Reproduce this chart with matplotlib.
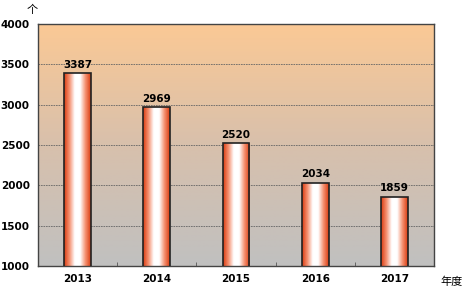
import numpy as np
import matplotlib
matplotlib.use("Agg")
import matplotlib.pyplot as plt
from matplotlib.colors import LinearSegmentedColormap

plt.rcParams['font.family'] = ['Noto Sans CJK SC', 'DejaVu Sans']

years = ["2013", "2014", "2015", "2016", "2017"]
counts = [3387, 2969, 2520, 2034, 1859]
y_ticks = [1000, 1500, 2000, 2500, 3000, 3500, 4000]

fig = plt.figure(figsize=(4.72, 2.90), dpi=100)
ax = fig.add_axes([38 / 472, 24 / 290, 396 / 472, 242 / 290])

x = np.arange(len(years))
ax.set_xlim(-0.5, len(years) - 0.5)
ax.set_ylim(1000, 4000)

# background gradient: peach at top to gray at bottom
bg_cmap = LinearSegmentedColormap.from_list("bg", ["#c0c0c0", "#d8c0ac", "#fbc995"])
grad = np.linspace(0, 1, 256).reshape(-1, 1)
ax.imshow(grad, aspect="auto", cmap=bg_cmap, origin="lower",
          extent=[-0.5, len(years) - 0.5, 1000, 4000], zorder=0)

for yt in y_ticks[1:-1]:
    ax.axhline(yt, color="#666666", lw=0.6, ls=(0, (2, 1)), zorder=1)

# bars with horizontal red-white-red gradient
bar_cmap = LinearSegmentedColormap.from_list(
    "bar", ["#d93a10", "#f59070", "#ffffff", "#ffffff", "#f59070", "#d93a10"])
hgrad = np.linspace(0, 1, 256).reshape(1, -1)
bars = ax.bar(x, counts, width=0.34, bottom=0, facecolor="none",
              edgecolor="#222222", lw=1.2, zorder=3)
for b in bars:
    im = ax.imshow(hgrad, aspect="auto", cmap=bar_cmap,
                   extent=[b.get_x(), b.get_x() + b.get_width(), 1000, b.get_height()],
                   zorder=2)
    im.set_clip_path(b)

for xi, v in zip(x, counts):
    ax.text(xi, v + 40, str(v), ha="center", va="bottom", fontsize=7.5,
            fontweight="bold", family="DejaVu Sans", zorder=4)

ax.set_xlim(-0.5, len(years) - 0.5)
ax.set_ylim(1000, 4000)
ax.set_xticks(x)
ax.set_xticklabels(years, fontsize=7.5, fontweight="bold", family="DejaVu Sans")
ax.set_yticks(y_ticks)
ax.set_yticklabels([str(t) for t in y_ticks], fontsize=7.5, fontweight="bold",
                   family="DejaVu Sans")
ax.set_xticks(np.arange(0.5, len(years) - 1, 1), minor=True)
ax.tick_params(axis="x", which="major", length=0, pad=6)
ax.tick_params(axis="x", which="minor", length=3, direction="in", color="#555555")
ax.tick_params(axis="y", length=0, pad=6)
for s in ax.spines.values():
    s.set_color("#444444")
    s.set_linewidth(1.0)

fig.text(32 / 472, 1 - 10 / 290, "个", fontsize=8, ha="center", va="center")
fig.text(452 / 472, 1 - 282 / 290, "年度", fontsize=8, ha="center", va="center")

fig.savefig("out.png", dpi=100)
